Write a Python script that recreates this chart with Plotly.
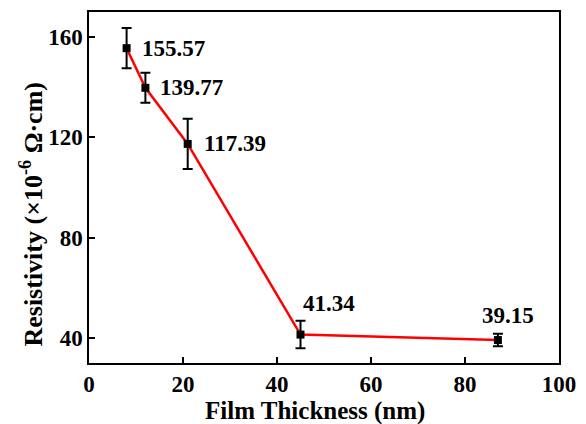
import plotly.graph_objects as go

thickness = [8, 12, 21, 45, 87]
resistivity = [155.57, 139.77, 117.39, 41.34, 39.15]
errors = [8.0, 6.0, 10.0, 5.5, 2.5]
label_text = ["155.57", "139.77", "117.39", "41.34", "39.15"]

FONT = "Liberation Serif"

fig = go.Figure()
fig.add_trace(go.Scatter(
    x=thickness, y=resistivity,
    mode="lines+markers",
    line=dict(color="#ff0000", width=2.5),
    marker=dict(symbol="square", size=8, color="black"),
    error_y=dict(type="data", array=errors, visible=True, color="black",
                 thickness=2, width=5),
    showlegend=False,
))

# label offsets (pixels) -- style only
offsets = [(13, 0), (13, 0), (14, 0), (0, 31), (-18, 25)]
for xv, yv, t, (dx, dy) in zip(thickness, resistivity, label_text, offsets):
    fig.add_annotation(x=xv, y=yv, text=f"<b>{t}</b>", showarrow=False,
                       xanchor="left", yanchor="middle", xshift=dx, yshift=dy,
                       font=dict(family=FONT, size=23, color="black"))

# axis titles
fig.add_annotation(xref="paper", yref="paper", x=0.48, y=-0.138,
                   text="<b>Film Thickness (nm)</b>", showarrow=False,
                   xanchor="center", yanchor="middle",
                   font=dict(family=FONT, size=25, color="black"))
fig.add_annotation(xref="paper", yref="paper", x=-0.123, y=0.4235,
                   text="<b>Resistivity (×10<sup>-6</sup> Ω·cm)</b>", showarrow=False,
                   xanchor="center", yanchor="middle", textangle=-90,
                   font=dict(family=FONT, size=26, color="black"))

axis_common = dict(
    showline=True, linecolor="black", linewidth=1.5, mirror=True,
    ticks="inside", ticklen=6, tickwidth=1.5, tickcolor="black",
    showgrid=False, zeroline=False,
    tickfont=dict(family=FONT, size=23, color="black", weight="bold"),
)

fig.update_layout(
    width=586, height=424,
    margin=dict(l=89, r=18, t=10, b=61),
    paper_bgcolor="white", plot_bgcolor="white",
    xaxis=dict(range=[0, 100], tickvals=[0, 20, 40, 60, 80, 100], **axis_common),
    yaxis=dict(range=[30, 170], tickvals=[40, 80, 120, 160], **axis_common),
)

fig.write_html("out.html")
